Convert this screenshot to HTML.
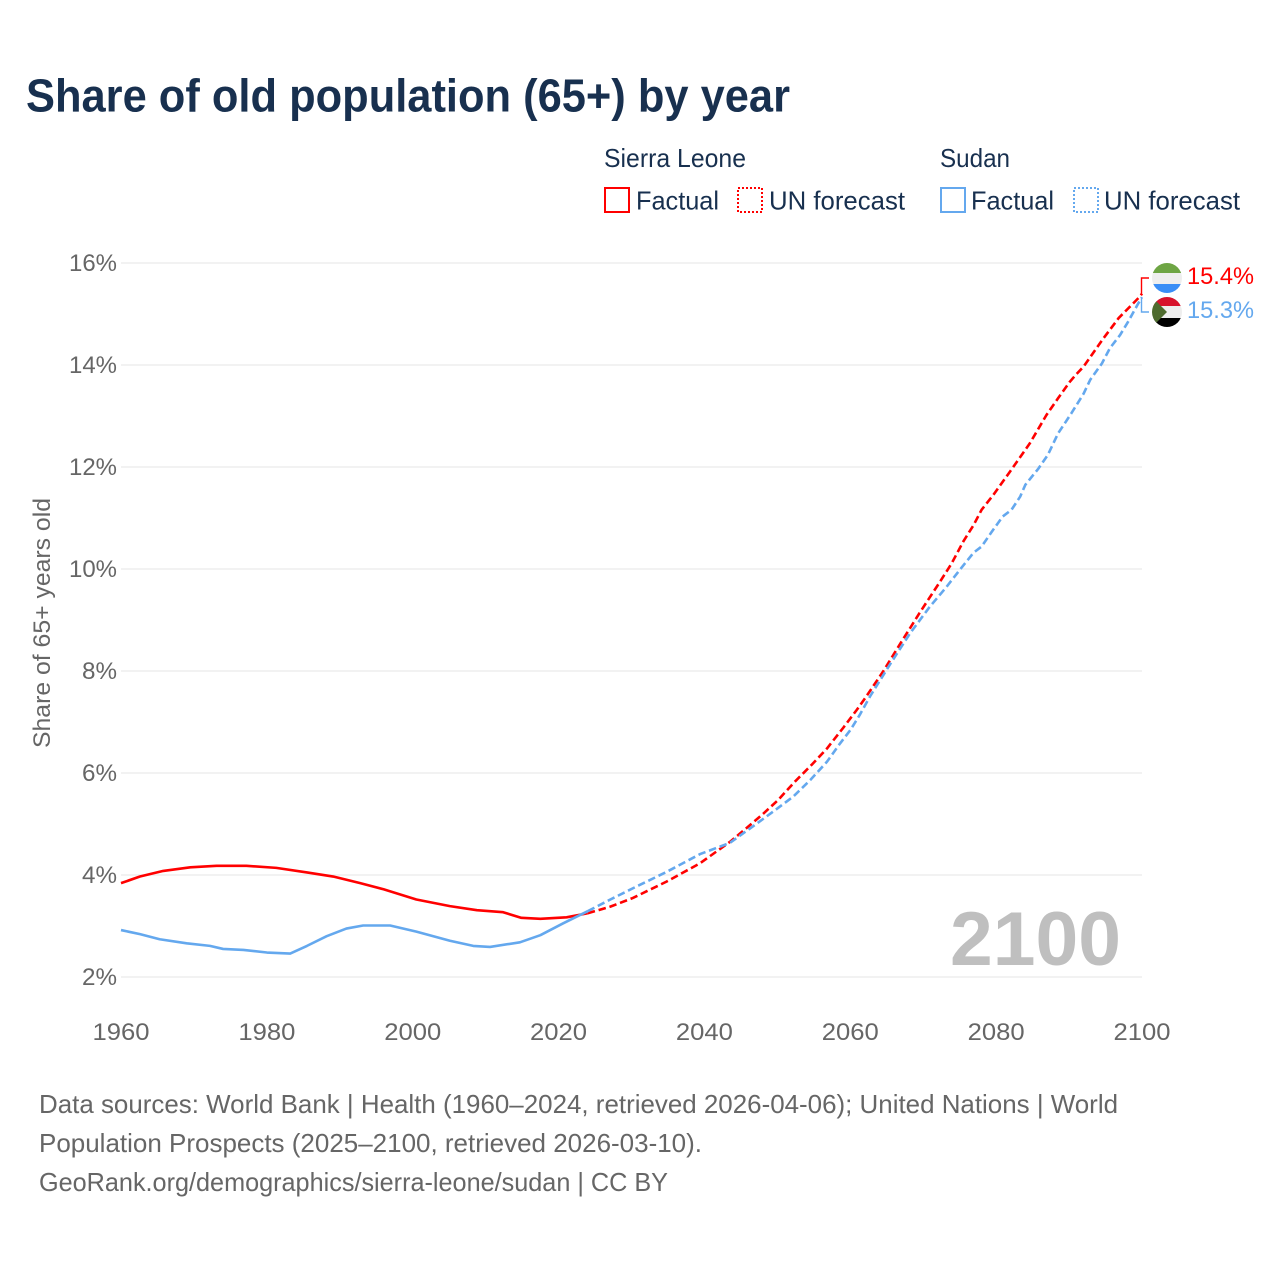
<!DOCTYPE html>
<html lang="en">
<head>
<meta charset="utf-8">
<title>Share of old population (65+) by year</title>
<style>
html,body{margin:0;padding:0;background:#fff;}
svg{display:block;font-family:"Liberation Sans",sans-serif;}
.tick{font-size:24px;fill:#666;}
.legend{font-size:26px;fill:#18304f;}
.foot{font-size:26px;fill:#666;}
</style>
</head>
<body>
<svg id="chart" width="1280" height="1280" viewBox="0 0 1280 1280" xmlns="http://www.w3.org/2000/svg">
  <rect width="1280" height="1280" fill="#fff"/>
  <text x="26" y="111.5" font-size="46" font-weight="bold" fill="#18304f" textLength="764" lengthAdjust="spacingAndGlyphs">Share of old population (65+) by year</text>

  <g>
    <text class="legend" x="604" y="167" textLength="142" lengthAdjust="spacingAndGlyphs">Sierra Leone</text>
    <rect x="605" y="188" width="24" height="24" fill="none" stroke="#ff0000" stroke-width="2"/>
    <text class="legend" x="636" y="209.5" textLength="83" lengthAdjust="spacingAndGlyphs">Factual</text>
    <rect x="738" y="188" width="24" height="24" fill="none" stroke="#ff0000" stroke-width="2" stroke-dasharray="2 2"/>
    <text class="legend" x="769" y="209.5" textLength="136" lengthAdjust="spacingAndGlyphs">UN forecast</text>
    <text class="legend" x="940" y="167" textLength="70" lengthAdjust="spacingAndGlyphs">Sudan</text>
    <rect x="941" y="188" width="24" height="24" fill="none" stroke="#64a8ee" stroke-width="2"/>
    <text class="legend" x="971" y="209.5" textLength="83" lengthAdjust="spacingAndGlyphs">Factual</text>
    <rect x="1074" y="188" width="24" height="24" fill="none" stroke="#64a8ee" stroke-width="2" stroke-dasharray="2 2"/>
    <text class="legend" x="1104" y="209.5" textLength="136" lengthAdjust="spacingAndGlyphs">UN forecast</text>
  </g>

  <text class="tick" transform="translate(50,748) rotate(-90)" x="0" y="0" textLength="250" lengthAdjust="spacingAndGlyphs">Share of 65+ years old</text>

  <g id="grid"></g>
  <g id="yticks"></g>
  <g id="xticks"></g>

  <text x="950" y="965" font-size="76" font-weight="bold" fill="#bfbfbf" textLength="171" lengthAdjust="spacingAndGlyphs">2100</text>

  <g id="series"></g>

  <defs>
    <clipPath id="clip-sl"><circle cx="1167" cy="278" r="15"/></clipPath>
    <clipPath id="clip-sd"><circle cx="1167" cy="312" r="15"/></clipPath>
  </defs>
  <g clip-path="url(#clip-sl)">
    <rect x="1152" y="263" width="30" height="10" fill="#6ea544"/>
    <rect x="1152" y="273" width="30" height="11" fill="#eeeeee"/>
    <rect x="1152" y="284" width="30" height="9" fill="#3a8ef6"/>
  </g>
  <g clip-path="url(#clip-sd)">
    <rect x="1152" y="297" width="30" height="9" fill="#d8122b"/>
    <rect x="1152" y="306" width="30" height="12" fill="#eeeeee"/>
    <rect x="1152" y="318" width="30" height="9" fill="#000000"/>
    <polygon points="1150,295 1167,312 1150,329" fill="#4e6b2e"/>
  </g>
  <text x="1187" y="284" font-size="24" fill="#ff0000" textLength="67" lengthAdjust="spacingAndGlyphs">15.4%</text>
  <text x="1187" y="318" font-size="24" fill="#64a8ee" textLength="67" lengthAdjust="spacingAndGlyphs">15.3%</text>

  <g>
    <text class="foot" x="39" y="1113" textLength="1079" lengthAdjust="spacingAndGlyphs">Data sources: World Bank | Health (1960–2024, retrieved 2026-04-06); United Nations | World</text>
    <text class="foot" x="39" y="1152" textLength="663" lengthAdjust="spacingAndGlyphs">Population Prospects (2025–2100, retrieved 2026-03-10).</text>
    <text class="foot" x="39" y="1191" textLength="629" lengthAdjust="spacingAndGlyphs">GeoRank.org/demographics/sierra-leone/sudan | CC BY</text>
  </g>
</svg>
<script>
const yTickValues = [2, 4, 6, 8, 10, 12, 14, 16];
const xTickValues = [1960, 1980, 2000, 2020, 2040, 2060, 2080, 2100];

const sierraFactualYears = [1960,1962.6,1965.8,1969.5,1973.1,1977.2,1981.3,1985.5,1989.1,1992.8,1996,2000.5,2005.1,2008.8,2012.4,2014.9,2017.5,2021.1,2024];
const sierraFactualValues = [3.84,3.97,4.08,4.15,4.18,4.18,4.14,4.05,3.97,3.84,3.72,3.52,3.39,3.31,3.27,3.16,3.14,3.17,3.25];
const sudanFactualYears = [1960,1962.6,1965.3,1969,1972.2,1974,1976.8,1980,1983.2,1985.5,1988.2,1990.9,1993.2,1996.9,2000.5,2005.1,2008.3,2010.6,2014.7,2017.5,2020.6,2024];
const sudanFactualValues = [2.92,2.84,2.74,2.66,2.61,2.55,2.53,2.48,2.46,2.61,2.80,2.95,3.01,3.01,2.89,2.71,2.61,2.59,2.68,2.82,3.05,3.29];

const sierraForecastYears = [2024,2027.1,2030.2,2034.8,2039.4,2043.5,2045.6,2047.9,2050.1,2052.4,2054.7,2056.8,2059,2060.9,2062,2064.5,2067,2069.6,2072.3,2073.9,2075.5,2076.9,2078,2079.6,2081.9,2084.6,2086.9,2088.5,2090.1,2091,2092,2094.7,2096.8,2099.7,2100];
const sierraForecastValues = [3.25,3.38,3.55,3.87,4.23,4.65,4.90,5.18,5.47,5.83,6.16,6.48,6.88,7.24,7.46,7.99,8.57,9.16,9.75,10.11,10.54,10.86,11.16,11.45,11.91,12.46,13.02,13.35,13.67,13.82,13.97,14.52,14.92,15.34,15.40];
const sudanForecastYears = [2024,2027.1,2030.2,2034.8,2039.4,2043.5,2046.9,2049.4,2052.2,2054.5,2056.8,2058.6,2060,2061.3,2062.7,2065.4,2068.2,2070.9,2073.2,2075,2076.9,2078,2079.4,2080.9,2082.1,2083.3,2084,2085.8,2087.1,2088.5,2090.3,2092,2092.9,2094.5,2095.6,2097,2098.1,2099.5,2100];
const sudanForecastValues = [3.29,3.52,3.74,4.06,4.41,4.63,4.98,5.24,5.54,5.86,6.22,6.58,6.84,7.14,7.50,8.12,8.74,9.26,9.65,9.98,10.32,10.44,10.73,11.03,11.16,11.42,11.65,11.97,12.24,12.66,13.05,13.44,13.71,14.03,14.33,14.59,14.85,15.21,15.33];

const NS = 'http://www.w3.org/2000/svg';
function xScale(year) { return 121 + (year - 1960) * (1142 - 121) / 140; }
function yScale(value) { return 977 - (value - 2) * 51; }

function make(tag, attrs, parent) {
  const el = document.createElementNS(NS, tag);
  for (const k in attrs) el.setAttribute(k, attrs[k]);
  parent.appendChild(el);
  return el;
}

const grid = document.getElementById('grid');
const yticks = document.getElementById('yticks');
const xticks = document.getElementById('xticks');
const series = document.getElementById('series');

yTickValues.forEach(function (v) {
  const line = make('line', {x1: 121, x2: 1142, y1: yScale(v), y2: yScale(v), stroke: '#eeeeee', 'stroke-width': 1.6}, grid);
  
  
  const label = make('text', {x: 117, y: yScale(v) + 8, 'text-anchor': 'end', class: 'tick', textLength: v >= 10 ? 48 : 35, lengthAdjust: 'spacingAndGlyphs'}, yticks);
  
  
  label.textContent = v + '%';
});

xTickValues.forEach(function (year) {
  const label = make('text', {x: xScale(year), y: 1040, 'text-anchor': 'middle', class: 'tick', textLength: 57, lengthAdjust: 'spacingAndGlyphs'}, xticks);
  
  
  label.textContent = year;
});

function pathFor(years, values) {
  return years.map(function (year, i) {
    return (i ? 'L' : 'M') + xScale(year).toFixed(2) + ' ' + yScale(values[i]).toFixed(2);
  }).join(' ');
}

const sierraFactualLine = make('path', {d: pathFor(sierraFactualYears, sierraFactualValues), fill: 'none', stroke: '#ff0000', 'stroke-width': 2.6, 'stroke-linejoin': 'round'}, series);



const sierraForecastLine = make('path', {d: pathFor(sierraForecastYears, sierraForecastValues), fill: 'none', stroke: '#ff0000', 'stroke-width': 2.6, 'stroke-dasharray': '7.5 3.8', 'stroke-linejoin': 'round'}, series);



const sudanFactualLine = make('path', {d: pathFor(sudanFactualYears, sudanFactualValues), fill: 'none', stroke: '#64a8ee', 'stroke-width': 2.6, 'stroke-linejoin': 'round'}, series);



const sudanForecastLine = make('path', {d: pathFor(sudanForecastYears, sudanForecastValues), fill: 'none', stroke: '#64a8ee', 'stroke-width': 2.6, 'stroke-dasharray': '7.5 3.8', 'stroke-linejoin': 'round'}, series);



const sierraEndY = yScale(sierraForecastValues[sierraForecastValues.length - 1]);
const sudanEndY = yScale(sudanForecastValues[sudanForecastValues.length - 1]);

const sierraConnector = make('path', {d: 'M1141.5 ' + sierraEndY.toFixed(1) + ' L1141.5 278 L1149 278', fill: 'none', stroke: '#ff0000', 'stroke-width': 1.4}, series);



const sudanConnector = make('path', {d: 'M1141.5 ' + sudanEndY.toFixed(1) + ' L1141.5 312 L1149 312', fill: 'none', stroke: '#64a8ee', 'stroke-width': 1.4}, series);


</script>
</body>
</html>
